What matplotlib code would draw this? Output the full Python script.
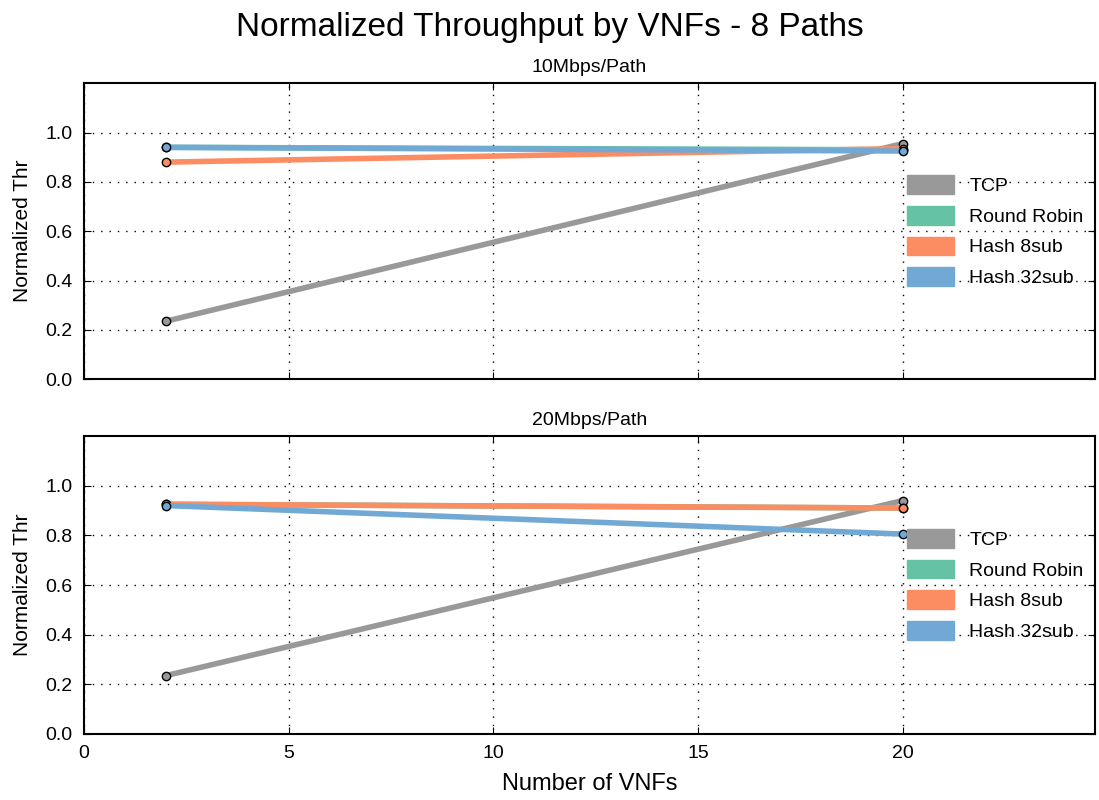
import matplotlib
matplotlib.use("Agg")
import matplotlib.pyplot as plt
from matplotlib.patches import Patch

plt.rcParams["font.family"] = ["Liberation Sans", "DejaVu Sans"]

vnfs = [2, 20]
series = ["TCP", "Round Robin", "Hash 8sub", "Hash 32sub"]
colors = ["#999999", "#66c2a5", "#fc8d62", "#72a9d4"]

panel_titles = ["10Mbps/Path", "20Mbps/Path"]
tcp = [[0.235, 0.955], [0.235, 0.94]]
round_robin = [[0.94, 0.93], [0.925, 0.91]]
hash_8sub = [[0.88, 0.935], [0.925, 0.91]]
hash_32sub = [[0.94, 0.925], [0.92, 0.805]]

fig = plt.figure(figsize=(10.99, 8), dpi=100)
ax_top = fig.add_axes([0.0764, 0.526, 0.92, 0.37])
ax_bot = fig.add_axes([0.0764, 0.0825, 0.92, 0.3725], sharex=ax_top)

for i, ax in enumerate([ax_top, ax_bot]):
    data = [tcp[i], round_robin[i], hash_8sub[i], hash_32sub[i]]
    for name, vals, c in zip(series, data, colors):
        ax.plot(vnfs, vals, color=c, lw=4, marker="o", markersize=6,
                markerfacecolor=c, markeredgecolor="black", markeredgewidth=1,
                label=name)
    ax.set_xlim(0, 24.7)
    ax.set_ylim(0, 1.2)
    ax.set_yticks([0.0, 0.2, 0.4, 0.6, 0.8, 1.0])
    ax.set_yticklabels(["0.0", "0.2", "0.4", "0.6", "0.8", "1.0"])
    ax.set_xticks([0, 5, 10, 15, 20])
    ax.grid(True, color="black", linestyle=(0, (1, 5)), lw=1)
    ax.tick_params(direction="in", top=True, right=True, labelsize=14, length=5, pad=8)
    for sp in ax.spines.values():
        sp.set_linewidth(1.5)
    ax.set_ylabel("Normalized Thr", fontsize=15, labelpad=10)
    ax.set_title(panel_titles[i], fontsize=14, pad=8)
    handles = [Patch(facecolor=c, edgecolor=c, label=n) for n, c in zip(series, colors)]
    ax.legend(handles=handles, loc="center right", frameon=False, fontsize=14,
              handlelength=2.4, handleheight=1.1, borderaxespad=0.2,
              labelspacing=0.55)

plt.setp(ax_top.get_xticklabels(), visible=False)
ax_bot.set_xlabel("Number of VNFs", fontsize=17, labelpad=8)
fig.suptitle("Normalized Throughput by VNFs - 8 Paths", fontsize=24, y=0.985)

fig.savefig("out.png", dpi=100)
